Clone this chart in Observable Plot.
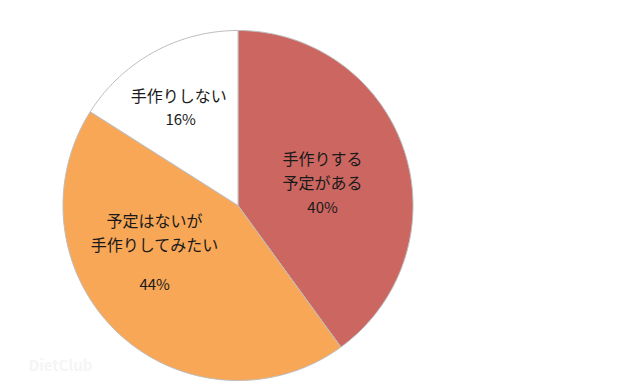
<!DOCTYPE html>
<html>
<head>
<meta charset="utf-8">
<script src="https://cdn.jsdelivr.net/npm/d3@7"></script>
<script src="https://cdn.jsdelivr.net/npm/@observablehq/plot@0.6"></script>
<style>
  html, body { margin: 0; padding: 0; background: #fff; }
</style>
</head>
<body>
<div id="chart"></div>
<script>
// ---- data ----
const categories = ["手作りする予定がある", "予定はないが手作りしてみたい", "手作りしない"];
const labelLines = [["手作りする", "予定がある"], ["予定はないが", "手作りしてみたい"], ["手作りしない"]];
const values = [40, 44, 16];
const percentLabels = ["40%", "44%", "16%"];

// ---- layout ----
const W = 640, H = 384;
const R = 175;              // pie radius in px
const CX = 237.5, CY = 205; // pie centre in px
const LINE = 23.5;          // label line spacing in px
const colors = ["#CC6661", "#F8A757", "#FFFFFF"];

// slices via d3.pie (clockwise from 12 o'clock, original order)
const arcs = d3.pie().sort(null).value(d => d)(values);

// polygon points for each slice in unit coordinates (y up)
const polyPts = [];
arcs.forEach((a, i) => {
  const steps = Math.max(2, Math.ceil((a.endAngle - a.startAngle) / (Math.PI / 180)));
  polyPts.push({cat: categories[i], x: 0, y: 0});
  for (let s = 0; s <= steps; s++) {
    const t = a.startAngle + (a.endAngle - a.startAngle) * s / steps;
    polyPts.push({cat: categories[i], x: Math.sin(t), y: Math.cos(t)});
  }
  polyPts.push({cat: categories[i], x: 0, y: 0});
});

// label anchors: slice centroid at 0.55R plus pixel nudges (layout)
const nameNudge = [[-7, -4], [-17.5, -42], [-13, -24]];
const pctNudge  = [[-7, 32], [-17.5, 9.5], [-11, -1]];
const namePts = [], pctPts = [];
arcs.forEach((a, i) => {
  const m = (a.startAngle + a.endAngle) / 2;
  const cx = 0.55 * Math.sin(m), cy = 0.55 * Math.cos(m);
  const lines = labelLines[i];
  lines.forEach((t, j) => {
    const off = (j - (lines.length - 1) / 2) * LINE;
    namePts.push({text: t, x: cx + nameNudge[i][0] / R, y: cy - (nameNudge[i][1] + off) / R});
  });
  pctPts.push({text: percentLabels[i], x: cx + pctNudge[i][0] / R, y: cy - pctNudge[i][1] / R});
});

const chart = Plot.plot({
  width: W,
  height: H,
  margin: 0,
  x: {domain: [-CX / R, (W - CX) / R], axis: null},
  y: {domain: [-(H - CY) / R, CY / R], axis: null},
  color: {domain: categories, range: colors},
  style: {fontFamily: "'Noto Sans CJK JP', 'Noto Sans', sans-serif", background: "#fff"},
  marks: [
    Plot.line(polyPts, {
      x: "x", y: "y", z: "cat", fill: "cat",
      stroke: "#bdbdbd", strokeWidth: 1, curve: "linear"
    }),
    Plot.text(namePts, {
      x: "x", y: "y", text: "text",
      fontSize: 16, fill: "#1a1a1a", lineAnchor: "middle"
    }),
    Plot.text(pctPts, {
      x: "x", y: "y", text: "text",
      fontSize: 15, fill: "#1a1a1a", lineAnchor: "middle"
    }),
    Plot.text(["DietClub"], {
      frameAnchor: "bottom-left", dx: 28, dy: -14,
      fontSize: 15, fontWeight: "bold", fill: "#f5f5f5", textAnchor: "start"
    })
  ]
});

document.getElementById("chart").appendChild(chart);
</script>
</body>
</html>
